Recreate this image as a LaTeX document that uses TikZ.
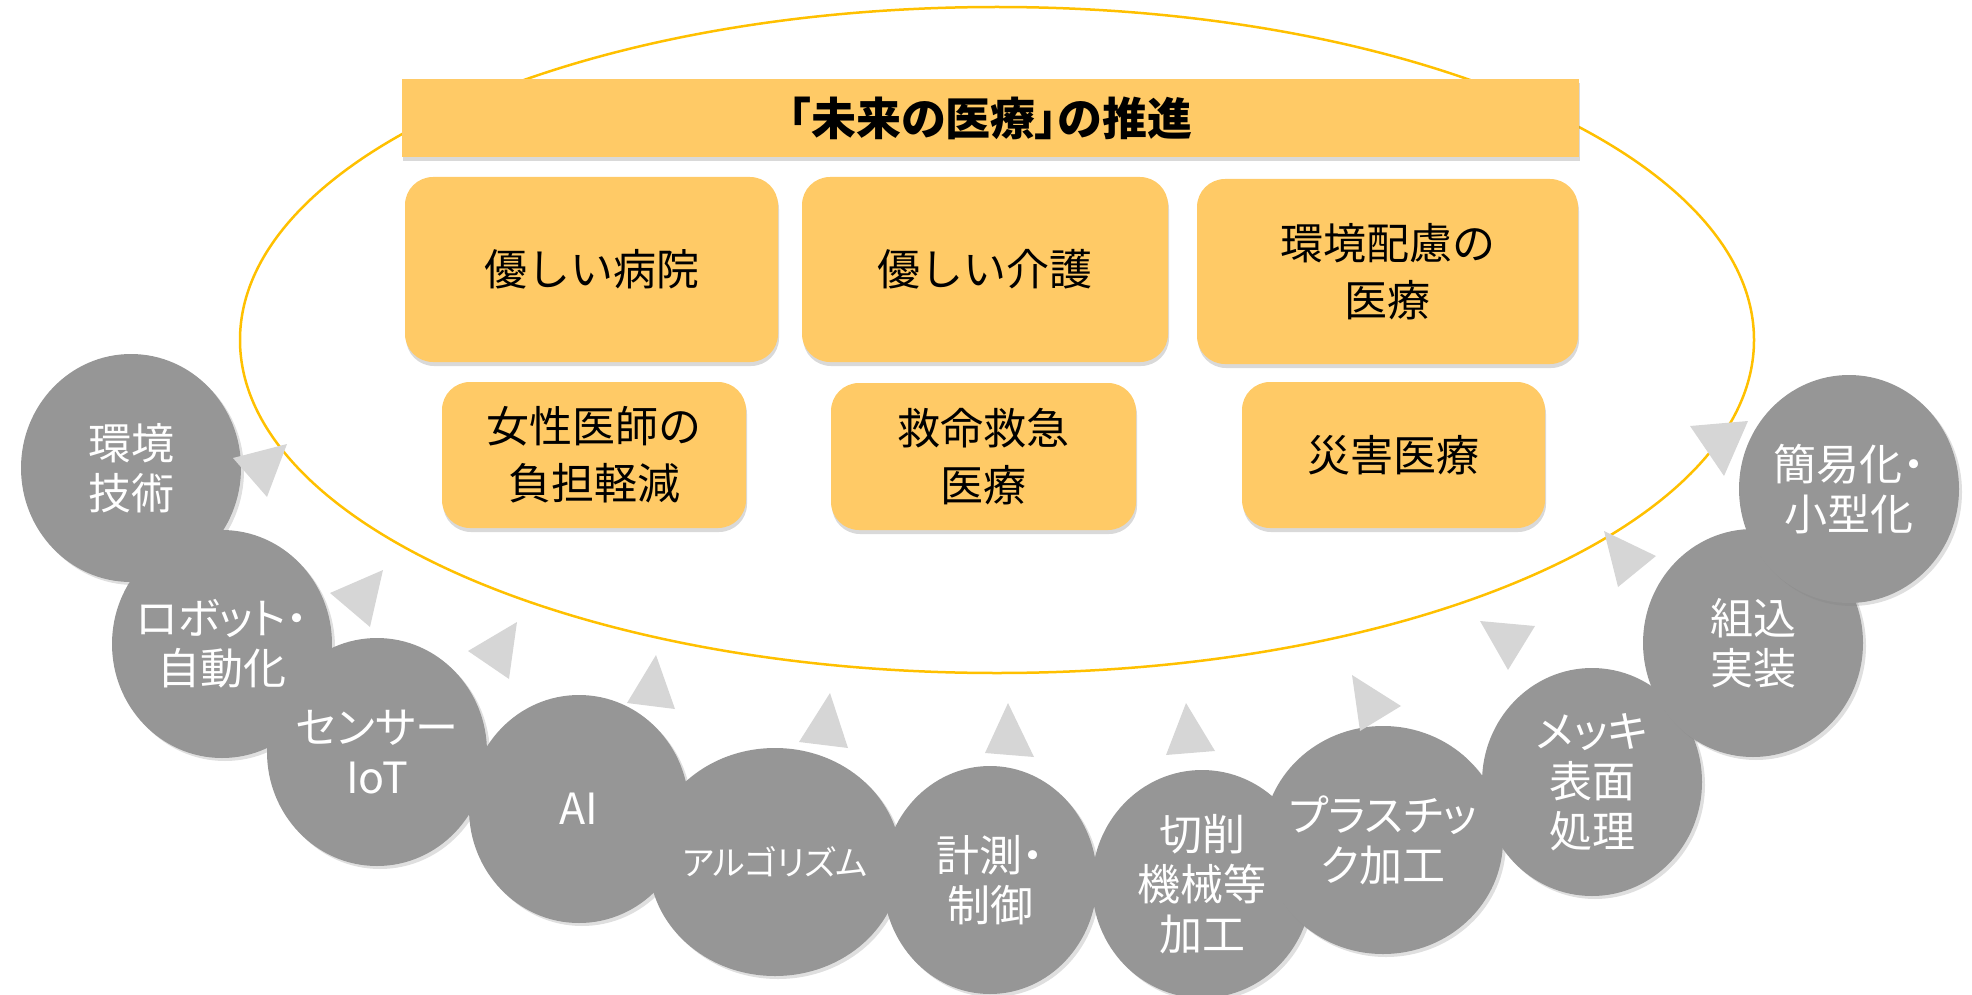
\documentclass[tikz,border=0pt]{standalone}
\usepackage{fontspec}
\setmainfont{Noto Sans CJK JP}
\newfontfamily\propfont{Noto Sans CJK JP}[RawFeature=+palt]
\usetikzlibrary{shapes.geometric,shadows}
\definecolor{boxyellow}{RGB}{255,202,102}
\definecolor{ringgold}{RGB}{255,192,0}
\definecolor{circgray}{RGB}{150,150,150}
\definecolor{trigray}{RGB}{214,214,214}
\begin{document}
\begin{tikzpicture}[x=1pt,y=-1pt,
  ybox/.style={draw=none, fill=boxyellow, rounded corners=28pt, inner sep=0pt, align=center,
    font=\fontsize{43}{57}\selectfont,
    drop shadow={shadow xshift=1pt, shadow yshift=-4pt, opacity=.3}},
  titlebar/.style={draw=none, fill=boxyellow, inner sep=0pt, align=center,
    font=\propfont\bfseries\fontsize{45}{50}\selectfont,
    drop shadow={shadow xshift=1pt, shadow yshift=-4pt, opacity=.3}},
  gcirc/.style={ellipse, fill=circgray, inner sep=0pt, minimum width=220pt, minimum height=228pt,
    drop shadow={shadow xshift=3pt, shadow yshift=-3pt, opacity=.25}},
  ctext/.style={inner sep=0pt, text=white, align=center, font=\propfont\fontsize{43}{50}\selectfont},
  tri/.style={fill=trigray}]
\useasboundingbox (0,0) rectangle (1972,995);

% ring
\draw[ringgold, line width=2.5pt] (997,340) ellipse [x radius=757pt, y radius=333pt];

% title and boxes
\node[titlebar, minimum width=1177pt, minimum height=78pt] (title) at (990.5,118) {「未来の医療」の推進};
\node[ybox, minimum width=373pt, minimum height=185pt] (b1) at (591.5,269.5) {優しい病院};
\node[ybox, minimum width=366pt, minimum height=185pt] (b2) at (985,269.5) {優しい介護};
\node[ybox, minimum width=381pt, minimum height=185pt] (b3) at (1387.5,271.5) {環境配慮の\\医療};
\node[ybox, minimum width=304pt, minimum height=146pt] (b4) at (594,455) {女性医師の\\負担軽減};
\node[ybox, minimum width=305pt, minimum height=147pt] (b5) at (983.5,456.5) {救命救急\\医療};
\node[ybox, minimum width=303pt, minimum height=146pt] (b6) at (1393.5,455) {災害医療};

% circles
\node[gcirc] (c1) at (131,468) {};
\node[ctext] (t1) at (c1) {環境\\技術};
\node[gcirc] (c2) at (222,644) {};
\node[ctext] (t2) at (c2) {ロボット・\\自動化};
\node[gcirc] (c3) at (377,752) {};
\node[ctext] (t3) at (c3) {センサー\\IoT};
\node[gcirc] (c4) at (579,809) {};
\node[ctext] (t4) at (c4) {AI};
\node[gcirc, minimum width=252pt] (c5) at (775,862) {};
\node[ctext, font=\propfont\fontsize{34}{40}\selectfont] (t5) at (c5) {アルゴリズム};
\node[gcirc, minimum width=214pt] (c6) at (990,880) {};
\node[ctext] (t6) at (c6) {計測・\\制御};
\node[gcirc] (c7) at (1202,884) {};
\node[ctext] (t7) at (c7) {切削\\機械等\\加工};
\node[gcirc, minimum width=240pt] (c8) at (1383,840) {};
\node[ctext] (t8) at (c8) {プラスチッ\\ク加工};
\node[gcirc] (c9) at (1592,782) {};
\node[ctext] (t9) at (c9) {メッキ\\表面\\処理};
\node[gcirc] (c10) at (1753,643) {};
\node[ctext] (t10) at (c10) {組込\\実装};
\node[gcirc] (c11) at (1849,489) {};
\node[ctext] (t11) at (c11) {簡易化・\\小型化};

% triangles
\fill[tri] (233,458) -- (287,444) -- (267,497) -- cycle;
\fill[tri] (330,593) -- (383,570) -- (370,627) -- cycle;
\fill[tri] (468,651) -- (517,622) -- (509,679) -- cycle;
\fill[tri] (656,655) -- (627,703) -- (675,709) -- cycle;
\fill[tri] (830,693) -- (799,742) -- (848,748) -- cycle;
\fill[tri] (1008,703) -- (985,753) -- (1034,757) -- cycle;
\fill[tri] (1186,703) -- (1166,755) -- (1215,751) -- cycle;
\fill[tri] (1352,675) -- (1401,706) -- (1360,731) -- cycle;
\fill[tri] (1480,621) -- (1535,626) -- (1508,670) -- cycle;
\fill[tri] (1604,531) -- (1656,556) -- (1618,587) -- cycle;
\fill[tri] (1690,426) -- (1748,421) -- (1724,476) -- cycle;
\end{tikzpicture}
\end{document}
